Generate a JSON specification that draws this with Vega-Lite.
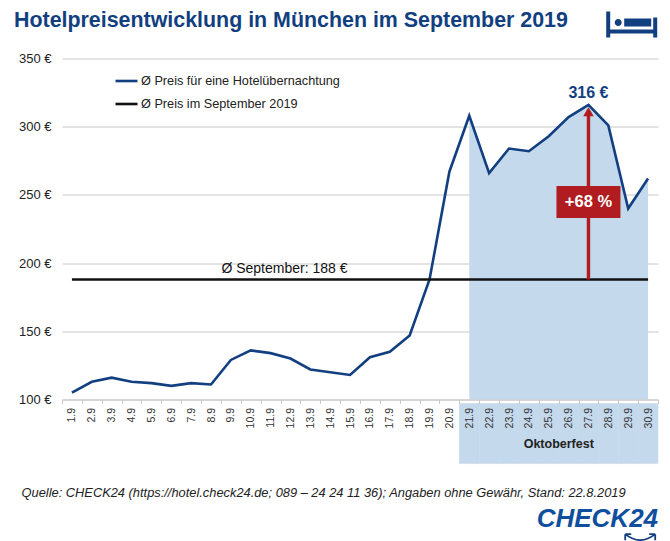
{
  "$schema": "https://vega.github.io/schema/vega-lite/v6.json",
  "background": "white",
  "width": 596,
  "height": 341,
  "autosize": "none",
  "padding": {"left": 62, "top": 58.5, "right": 12, "bottom": 141.5},
  "title": {
    "text": "Hotelpreisentwicklung in München im September 2019",
    "anchor": "start",
    "frame": "group",
    "dx": -48,
    "offset": -20,
    "fontSize": 21.4,
    "fontWeight": "bold",
    "color": "#123f80"
  },
  "datasets": {
    "preise": [
      {"day": "1.9", "series": "Ø Preis für eine Hotelübernachtung", "value": 105},
      {"day": "2.9", "series": "Ø Preis für eine Hotelübernachtung", "value": 113},
      {"day": "3.9", "series": "Ø Preis für eine Hotelübernachtung", "value": 116},
      {"day": "4.9", "series": "Ø Preis für eine Hotelübernachtung", "value": 113},
      {"day": "5.9", "series": "Ø Preis für eine Hotelübernachtung", "value": 112},
      {"day": "6.9", "series": "Ø Preis für eine Hotelübernachtung", "value": 110},
      {"day": "7.9", "series": "Ø Preis für eine Hotelübernachtung", "value": 112},
      {"day": "8.9", "series": "Ø Preis für eine Hotelübernachtung", "value": 111},
      {"day": "9.9", "series": "Ø Preis für eine Hotelübernachtung", "value": 129},
      {"day": "10.9", "series": "Ø Preis für eine Hotelübernachtung", "value": 136},
      {"day": "11.9", "series": "Ø Preis für eine Hotelübernachtung", "value": 134},
      {"day": "12.9", "series": "Ø Preis für eine Hotelübernachtung", "value": 130},
      {"day": "13.9", "series": "Ø Preis für eine Hotelübernachtung", "value": 122},
      {"day": "14.9", "series": "Ø Preis für eine Hotelübernachtung", "value": 120},
      {"day": "15.9", "series": "Ø Preis für eine Hotelübernachtung", "value": 118},
      {"day": "16.9", "series": "Ø Preis für eine Hotelübernachtung", "value": 131},
      {"day": "17.9", "series": "Ø Preis für eine Hotelübernachtung", "value": 135},
      {"day": "18.9", "series": "Ø Preis für eine Hotelübernachtung", "value": 147},
      {"day": "19.9", "series": "Ø Preis für eine Hotelübernachtung", "value": 188},
      {"day": "20.9", "series": "Ø Preis für eine Hotelübernachtung", "value": 267},
      {"day": "21.9", "series": "Ø Preis für eine Hotelübernachtung", "value": 308},
      {"day": "22.9", "series": "Ø Preis für eine Hotelübernachtung", "value": 266},
      {"day": "23.9", "series": "Ø Preis für eine Hotelübernachtung", "value": 284},
      {"day": "24.9", "series": "Ø Preis für eine Hotelübernachtung", "value": 282},
      {"day": "25.9", "series": "Ø Preis für eine Hotelübernachtung", "value": 293},
      {"day": "26.9", "series": "Ø Preis für eine Hotelübernachtung", "value": 307},
      {"day": "27.9", "series": "Ø Preis für eine Hotelübernachtung", "value": 316},
      {"day": "28.9", "series": "Ø Preis für eine Hotelübernachtung", "value": 301},
      {"day": "29.9", "series": "Ø Preis für eine Hotelübernachtung", "value": 240},
      {"day": "30.9", "series": "Ø Preis für eine Hotelübernachtung", "value": 262},
      {"day": "1.9", "series": "Ø Preis im September 2019", "value": 188},
      {"day": "30.9", "series": "Ø Preis im September 2019", "value": 188}
    ],
    "wiesn": [
      {"day": "21.9", "low": 53, "high": 97},
      {"day": "22.9", "low": 53, "high": 97},
      {"day": "23.9", "low": 53, "high": 97},
      {"day": "24.9", "low": 53, "high": 97},
      {"day": "25.9", "low": 53, "high": 97},
      {"day": "26.9", "low": 53, "high": 97},
      {"day": "27.9", "low": 53, "high": 97},
      {"day": "28.9", "low": 53, "high": 97},
      {"day": "29.9", "low": 53, "high": 97},
      {"day": "30.9", "low": 53, "high": 97}
    ]
  },
  "data": {"name": "preise"},
  "encoding": {
    "x": {
      "field": "day",
      "type": "nominal",
      "sort": null,
      "scale": {
        "type": "band",
        "paddingInner": 0,
        "paddingOuter": 0,
        "domain": ["1.9", "2.9", "3.9", "4.9", "5.9", "6.9", "7.9", "8.9", "9.9", "10.9", "11.9", "12.9", "13.9", "14.9", "15.9", "16.9", "17.9", "18.9", "19.9", "20.9", "21.9", "22.9", "23.9", "24.9", "25.9", "26.9", "27.9", "28.9", "29.9", "30.9"]
      },
      "axis": {
        "title": "Quelle: CHECK24 (https://hotel.check24.de; 089 – 24 24 11 36); Angaben ohne Gewähr, Stand: 22.8.2019",
        "titleFontStyle": "italic",
        "titleFontWeight": "normal",
        "titleFontSize": 12.85,
        "titleColor": "#222222",
        "titleX": -41,
        "titleY": 97,
        "titleAlign": "left",
        "titleBaseline": "alphabetic",
        "labelAngle": -90,
        "labelFontSize": 10.5,
        "labelColor": "#333333",
        "labelPadding": 4,
        "labelOverlap": false,
        "tickBand": "extent",
        "tickColor": "#c8c8c8",
        "tickSize": 4,
        "domainColor": "#c8c8c8",
        "zindex": 1
      }
    },
    "y": {
      "field": "value",
      "type": "quantitative",
      "scale": {"domain": [100, 350], "nice": false},
      "axis": {
        "title": null,
        "values": [100, 150, 200, 250, 300, 350],
        "labelExpr": "datum.value + ' €'",
        "labelFontSize": 13,
        "labelColor": "#222222",
        "labelPadding": 11,
        "ticks": false,
        "domain": false,
        "grid": true,
        "gridColor": "#c8c8c8",
        "gridWidth": 1
      }
    }
  },
  "layer": [
    {
      "transform": [
        {"filter": "datum.series == 'Ø Preis für eine Hotelübernachtung' && toNumber(datum.day) >= 21"}
      ],
      "mark": {"type": "area", "color": "#c5d9ec", "opacity": 1},
      "encoding": {"y2": {"datum": 100}}
    },
    {
      "data": {"name": "wiesn"},
      "mark": {"type": "bar", "color": "#c5d9ec", "stroke": "#c5d9ec", "strokeWidth": 0.5},
      "encoding": {
        "y": {"field": "high", "type": "quantitative"},
        "y2": {"field": "low"}
      }
    },
    {
      "mark": {"type": "line", "strokeWidth": 2.6},
      "encoding": {
        "color": {
          "field": "series",
          "type": "nominal",
          "scale": {
            "domain": ["Ø Preis für eine Hotelübernachtung", "Ø Preis im September 2019"],
            "range": ["#123f80", "#111111"]
          },
          "legend": {
            "title": null,
            "orient": "none",
            "legendX": 52,
            "legendY": 10,
            "symbolType": "stroke",
            "symbolSize": 484,
            "symbolStrokeWidth": 2.6,
            "labelFontSize": 12.7,
            "labelColor": "#222222",
            "labelOffset": 2,
            "labelLimit": 320,
            "rowPadding": 3
          }
        }
      }
    },
    {
      "data": {"values": [{"day": "27.9", "low": 188, "high": 312}]},
      "mark": {"type": "rule", "color": "#b01c20", "strokeWidth": 3.4},
      "encoding": {
        "y": {"field": "low", "type": "quantitative"},
        "y2": {"field": "high"}
      }
    },
    {
      "data": {"values": [{"day": "27.9", "value": 311}]},
      "mark": {"type": "point", "shape": "triangle-up", "filled": true, "opacity": 1, "color": "#b01c20", "size": 110}
    },
    {
      "data": {"values": [{"day": "27.9", "low": 233, "high": 256.5}]},
      "mark": {"type": "bar", "color": "#b01c20", "width": 64},
      "encoding": {
        "y": {"field": "high", "type": "quantitative"},
        "y2": {"field": "low"}
      }
    },
    {
      "data": {"values": [{"day": "27.9", "value": 244.5, "label": "+68 %"}]},
      "mark": {"type": "text", "color": "white", "fontSize": 16.5, "fontWeight": "bold"},
      "encoding": {"text": {"field": "label"}}
    },
    {
      "data": {"values": [{"day": "27.9", "value": 325, "label": "316 €"}]},
      "mark": {"type": "text", "color": "#123f80", "fontSize": 16, "fontWeight": "bold"},
      "encoding": {"text": {"field": "label"}}
    },
    {
      "data": {"values": [{"day": "12.9", "value": 195.5, "label": "Ø September: 188 €"}]},
      "mark": {"type": "text", "color": "#111111", "fontSize": 14, "xOffset": -6},
      "encoding": {"text": {"field": "label"}}
    },
    {
      "data": {"values": [{"day": "25.9", "value": 67.5, "label": "Oktoberfest"}]},
      "mark": {"type": "text", "color": "#222222", "fontSize": 12.5, "fontWeight": "bold", "xOffset": 10},
      "encoding": {"text": {"field": "label"}}
    },
    {
      "data": {"values": [{"day": "29.9", "value": 375}]},
      "mark": {
        "type": "point",
        "filled": true,
        "opacity": 1,
        "color": "#123f80",
        "size": 2500,
        "xOffset": 3.5,
        "shape": "M-1.02,-0.52H-0.86V0.2H0.86V-0.28H1.02V0.52H0.86V0.36H-0.86V0.52H-1.02Z M-0.68,-0.08A0.14,0.14 0 1 0 -0.4,-0.08A0.14,0.14 0 1 0 -0.68,-0.08Z M-0.3,-0.24H0.78V0.08H-0.3Z"
      }
    },
    {
      "data": {"values": [{"day": "30.9", "value": 12.5, "label": "CHECK24"}]},
      "mark": {"type": "text", "color": "#0f4f9e", "fontSize": 26, "fontWeight": "bold", "fontStyle": "italic", "align": "right", "xOffset": 10},
      "encoding": {"text": {"field": "label"}}
    },
    {
      "data": {"values": [{"day": "29.9", "value": -2}]},
      "mark": {
        "type": "point",
        "filled": false,
        "opacity": 1,
        "color": "#123f80",
        "strokeWidth": 1.8,
        "size": 900,
        "xOffset": 12,
        "shape": "M-1,-0.3Q0,0.5 1,-0.3M-1,-0.3L-0.6,-0.3M-1,-0.3L-1,0.1M1,-0.3L0.6,-0.3M1,-0.3L1,0.1"
      }
    }
  ],
  "config": {
    "font": "Liberation Sans",
    "view": {"stroke": null}
  }
}
